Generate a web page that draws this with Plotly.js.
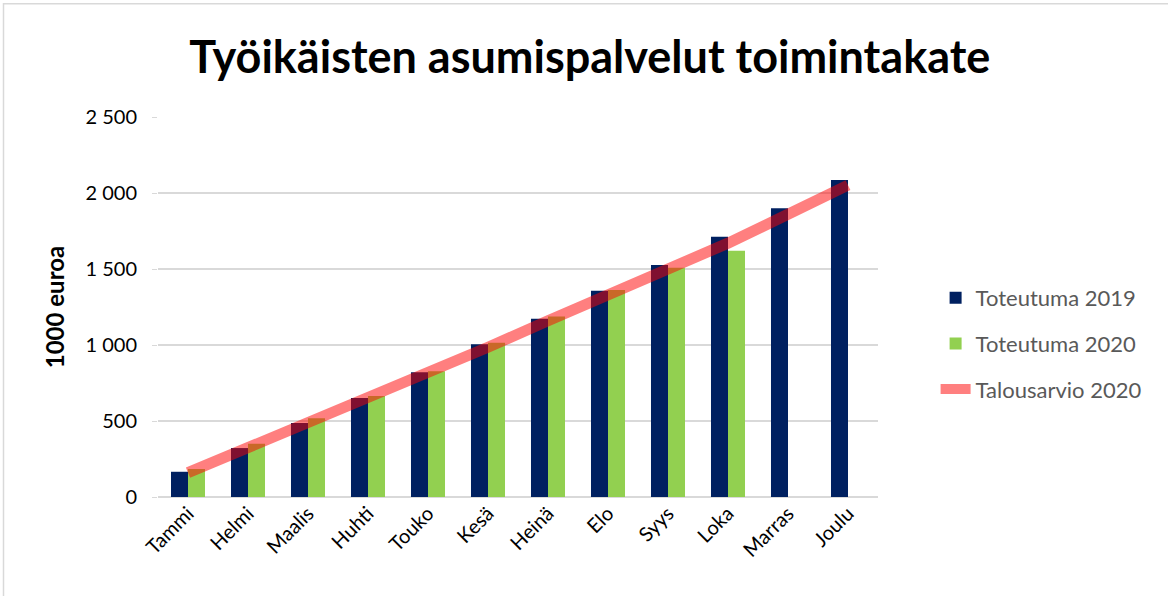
<!DOCTYPE html>
<html>
<head>
<meta charset="utf-8">
<script src="https://cdn.plot.ly/plotly-3.0.1.min.js"></script>
<style>
  html, body { margin: 0; padding: 0; background: #ffffff; }
  #chart { width: 1168px; height: 596px; }
</style>
</head>
<body>
<div id="chart"></div>
<script>
const months = ["Tammi", "Helmi", "Maalis", "Huhti", "Touko", "Kesä", "Heinä", "Elo", "Syys", "Loka", "Marras", "Joulu"];
const toteutuma2019 = [166, 322, 487, 651, 821, 1005, 1173, 1357, 1526, 1712, 1900, 2086];
const toteutuma2020 = [184, 351, 518, 665, 827, 1014, 1187, 1362, 1508, 1620, null, null];
const talousarvio2020 = [160, 325, 490, 650, 810, 985, 1160, 1325, 1490, 1670, 1860, 2052];
const yTickVals = [0, 500, 1000, 1500, 2000, 2500];
const yTickText = ["0", "500", "1 000", "1 500", "2 000", "2 500"];

const FONT = "Lato, 'Open Sans', sans-serif";

const traces = [
  {
    type: "bar", name: "Toteutuma 2019", x: months, y: toteutuma2019,
    marker: { color: "#002060" }, legendgroup: "a"
  },
  {
    type: "bar", name: "Toteutuma 2020", x: months, y: toteutuma2020,
    marker: { color: "#92D050" }, legendgroup: "b"
  },
  {
    type: "scatter", mode: "lines", name: "Talousarvio 2020", x: months, y: talousarvio2020,
    line: { color: "rgba(255,0,0,0.5)", width: 11 }, legendgroup: "c"
  }
];

const layout = {
  width: 1168, height: 596,
  paper_bgcolor: "#ffffff", plot_bgcolor: "#ffffff",
  separators: ", ",
  font: { family: FONT, color: "#000000", size: 18 },
  margin: { l: 158, r: 290, t: 117, b: 99 },
  barmode: "group", bargap: 0.433, bargroupgap: 0,
  title: {
    text: "<b>Työikäisten asumispalvelut toimintakate</b>",
    font: { family: FONT, size: 45, color: "#000000" },
    xref: "container", x: 0.505, xanchor: "center",
    yref: "container", y: 0.904, yanchor: "middle"
  },
  xaxis: {
    type: "category",
    tickangle: -45,
    tickfont: { family: FONT, size: 20, color: "#000000" },
    showgrid: false, zeroline: false,
    showline: false, ticks: ""
  },
  yaxis: {
    range: [0, 2500],
    tickvals: yTickVals,
    ticktext: yTickText,
    tickfont: { family: FONT, size: 20, color: "#000000" },
    showgrid: true, gridcolor: "#d9d9d9", gridwidth: 1.5,
    zeroline: true, zerolinecolor: "#d9d9d9", zerolinewidth: 1.5,
    ticks: "outside", ticklen: 5, tickcolor: "#d9d9d9",
    ticklabelstandoff: 11,
    title: {
      text: "<b>1000 euroa</b>",
      font: { family: FONT, size: 24, color: "#000000" },
      standoff: 14
    }
  },
  legend: {
    x: 1.08, xanchor: "left",
    y: 0.404, yanchor: "middle",
    font: { family: FONT, size: 22, color: "#595959" },
    traceorder: "grouped",
    tracegroupgap: 14,
    bgcolor: "rgba(0,0,0,0)"
  },
  shapes: [
    {
      type: "rect", xref: "paper", yref: "paper",
      x0: (3.5 - 158) / 720, x1: 2, y0: -2, y1: (496.7 - 3.5) / 380,
      line: { color: "#d9d9d9", width: 1.5 }, fillcolor: "rgba(0,0,0,0)", layer: "below"
    }
  ],
  showlegend: true
};

Plotly.newPlot("chart", traces, layout, { displayModeBar: false, staticPlot: true });
</script>
</body>
</html>
